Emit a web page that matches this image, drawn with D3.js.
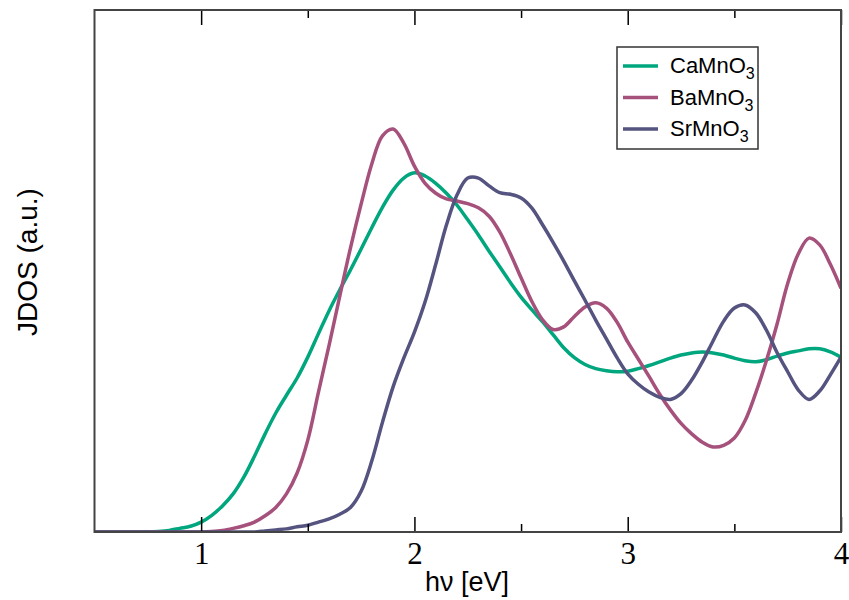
<!DOCTYPE html>
<html>
<head>
<meta charset="utf-8">
<script src="https://cdn.jsdelivr.net/npm/d3@7"></script>
<style>
  body { margin: 0; background: #fff; }
  svg { display: block; }
</style>
</head>
<body>
<div id="chart"></div>
<script>
// photon energy grid (eV)
var energy = [0.5,0.55,0.6,0.65,0.7,0.75,0.8,0.85,0.9,0.95,
  1.0,1.05,1.1,1.15,1.2,1.25,1.3,1.35,1.4,1.45,
  1.5,1.55,1.6,1.65,1.7,1.75,1.8,1.85,1.9,1.95,
  2.0,2.05,2.1,2.15,2.2,2.25,2.3,2.35,2.4,2.45,
  2.5,2.55,2.6,2.65,2.7,2.75,2.8,2.85,2.9,2.95,
  3.0,3.05,3.1,3.15,3.2,3.25,3.3,3.35,3.4,3.45,
  3.5,3.55,3.6,3.65,3.7,3.75,3.8,3.85,3.9,3.95,4.0];

// JDOS, arbitrary units
var caMnO3 = [0,0,0,0,0,0,0.01,0.03,0.07,0.11,
  0.19,0.32,0.50,0.73,1.05,1.45,1.88,2.28,2.62,2.95,
  3.35,3.80,4.24,4.64,5.02,5.42,5.83,6.22,6.55,6.78,
  6.88,6.82,6.68,6.49,6.26,5.98,5.69,5.38,5.08,4.78,
  4.50,4.26,4.03,3.78,3.53,3.34,3.21,3.13,3.09,3.07,
  3.08,3.13,3.19,3.26,3.33,3.39,3.43,3.45,3.43,3.39,
  3.33,3.28,3.26,3.30,3.37,3.43,3.47,3.51,3.51,3.45,3.35];
var baMnO3 = [0,0,0,0,0,0,0,0,0,0,
  0,0.01,0.03,0.07,0.12,0.19,0.31,0.47,0.73,1.13,
  1.76,2.68,3.58,4.52,5.44,6.28,7.05,7.59,7.72,7.45,
  7.01,6.68,6.49,6.38,6.34,6.29,6.21,6.05,5.75,5.33,
  4.87,4.42,4.07,3.88,3.93,4.13,4.31,4.39,4.29,4.02,
  3.64,3.31,2.98,2.64,2.34,2.08,1.88,1.72,1.63,1.66,
  1.80,2.13,2.66,3.28,3.98,4.76,5.33,5.63,5.50,5.13,4.67];
var srMnO3 = [0,0,0,0,0,0,0,0,0,0,
  0,0,0,0,0,0,0.02,0.04,0.06,0.10,
  0.13,0.19,0.25,0.34,0.47,0.78,1.36,2.10,2.78,3.33,
  3.83,4.41,5.13,5.88,6.46,6.78,6.78,6.63,6.50,6.47,
  6.40,6.21,5.89,5.55,5.19,4.81,4.44,4.06,3.70,3.34,
  3.03,2.83,2.68,2.58,2.54,2.65,2.91,3.26,3.66,4.04,
  4.29,4.35,4.20,3.87,3.44,3.07,2.72,2.54,2.70,3.01,3.35];

var seriesNames = ["CaMnO", "BaMnO", "SrMnO"];
var seriesColors = ["#00a67e", "#a5517c", "#55537f"];
var seriesData = [caMnO3, baMnO3, srMnO3];

var majorTicks = [1, 2, 3, 4];
var minorTicks = [1.5, 2.5, 3.5];

var w = 849, h = 600;
var margin = {top: 10, right: 8, bottom: 68, left: 94.5};
var width = w - margin.left - margin.right,
    height = h - margin.top - margin.bottom;

var svg = d3.select("#chart").append("svg")
    .attr("width", w)
    .attr("height", h);

var g = svg.append("g")
    .attr("transform", "translate(" + margin.left + "," + margin.top + ")");

var x = d3.scaleLinear().domain([0.5, 4]).range([0, width]);
var y = d3.scaleLinear().domain([0, 10]).range([height, 0]);

g.append("clipPath").attr("id", "clip")
  .append("rect").attr("width", width).attr("height", height);

var line = d3.line()
    .x(function(d) { return x(d[0]); })
    .y(function(d) { return y(d[1]); })
    .curve(d3.curveCatmullRom.alpha(0.5));

var curves = g.append("g").attr("clip-path", "url(#clip)");
seriesData.forEach(function(vals, i) {
    curves.append("path")
        .datum(energy.map(function(e, j) { return [e, vals[j]]; }))
        .attr("d", line)
        .style("fill", "none")
        .style("stroke", seriesColors[i])
        .style("stroke-width", 3.5)
        .style("stroke-linejoin", "round");
});

// bottom axis, ticks pointing in
var xAxis = g.append("g")
    .attr("transform", "translate(0," + height + ")")
    .call(d3.axisBottom(x).tickValues(majorTicks).tickSize(-15).tickPadding(10).tickFormat(d3.format("d")));
xAxis.select(".domain").remove();
xAxis.selectAll("line").style("stroke", "#000").style("stroke-width", 1.5);
xAxis.selectAll("text")
    .style("font-family", "'Liberation Serif', 'Times New Roman', serif")
    .style("font-size", "31px")
    .style("fill", "#000");

var xMinor = g.append("g")
    .attr("transform", "translate(0," + height + ")")
    .call(d3.axisBottom(x).tickValues(minorTicks).tickSize(-8).tickFormat(""));
xMinor.select(".domain").remove();
xMinor.selectAll("line").style("stroke", "#000").style("stroke-width", 1.5);

// mirrored top ticks
var xTop = g.append("g")
    .call(d3.axisTop(x).tickValues(majorTicks).tickSize(-15).tickFormat(""));
xTop.select(".domain").remove();
xTop.selectAll("line").style("stroke", "#000").style("stroke-width", 1.5);

var xTopMinor = g.append("g")
    .call(d3.axisTop(x).tickValues(minorTicks).tickSize(-8).tickFormat(""));
xTopMinor.select(".domain").remove();
xTopMinor.selectAll("line").style("stroke", "#000").style("stroke-width", 1.5);

// frame
g.append("rect")
    .attr("width", width)
    .attr("height", height)
    .style("fill", "none")
    .style("stroke", "#444")
    .style("stroke-width", 2);

// axis titles
svg.append("text")
    .attr("x", 467)
    .attr("y", 591)
    .attr("text-anchor", "middle")
    .style("font-family", "'Liberation Sans', Arial, sans-serif")
    .style("font-size", "27px")
    .text("hν [eV]");

svg.append("text")
    .attr("transform", "translate(37,262) rotate(-90)")
    .attr("text-anchor", "middle")
    .style("font-family", "'Liberation Sans', Arial, sans-serif")
    .style("font-size", "28px")
    .text("JDOS (a.u.)");

// legend
var legend = svg.append("g").attr("transform", "translate(617,47)");
legend.append("rect")
    .attr("width", 141)
    .attr("height", 102)
    .style("fill", "#fff")
    .style("stroke", "#333")
    .style("stroke-width", 1.5);

seriesNames.forEach(function(name, i) {
    var ly = 19 + i * 31.5;
    legend.append("line")
        .attr("x1", 6).attr("x2", 41)
        .attr("y1", ly).attr("y2", ly)
        .style("stroke", seriesColors[i])
        .style("stroke-width", 3.5);
    var t = legend.append("text")
        .attr("x", 53)
        .attr("y", ly + 7)
        .style("font-family", "'Liberation Sans', Arial, sans-serif")
        .style("font-size", "22px");
    t.append("tspan").text(name);
    t.append("tspan")
        .attr("dy", 6)
        .style("font-size", "16px")
        .text("3");
});
</script>
</body>
</html>
